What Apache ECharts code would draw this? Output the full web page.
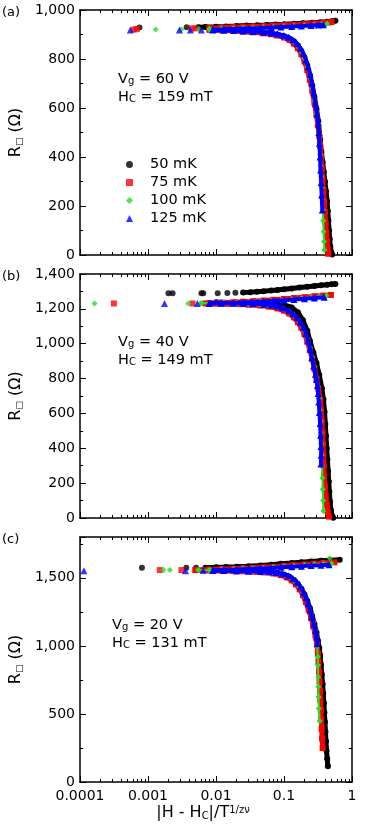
<!DOCTYPE html>
<html>
<head>
<meta charset="utf-8">
<script src="https://cdn.jsdelivr.net/npm/echarts@6/dist/echarts.min.js"></script>
<style>
html, body { margin: 0; padding: 0; background: #fff; }
#chart { width: 382px; height: 825px; }
</style>
</head>
<body>
<div id="chart"></div>
<script>
// ---- labels / ticks ----
const temps = ['50 mK', '75 mK', '100 mK', '125 mK']
const xTicks = [0.0001, 0.001, 0.01, 0.1, 1]
const xTickLabels = ['0.0001', '0.001', '0.01', '0.1', '1']
const yMax = [1000, 1400, 1800]
const yStep = [200, 200, 500]
const panelTags = ['(a)', '(b)', '(c)']
const gateV = ['60', '40', '20']
const fieldHc = ['159', '149', '131']

// ---- panel (a): Vg = 60 V ----
const a50Stray = [[0.00075, 929], [0.0037, 930]]
const a50Up = [[0.0055, 930], [0.007, 931], [0.01, 932], [0.014, 933], [0.02, 935], [0.028, 937], [0.04, 938], [0.055, 939], [0.075, 941], [0.1, 942], [0.14, 944], [0.19, 946], [0.26, 948], [0.34, 950], [0.43, 952], [0.5, 954], [0.57, 956]]
const a50Down = [[0.01, 919], [0.015, 917], [0.022, 915], [0.03, 912], [0.045, 909], [0.06, 905], [0.08, 900], [0.1, 893], [0.12, 884], [0.14, 872], [0.16, 855], [0.18, 833], [0.2, 806], [0.22, 773], [0.24, 735], [0.26, 692], [0.28, 645], [0.3, 596], [0.32, 545], [0.34, 470], [0.355, 420], [0.37, 380], [0.385, 340], [0.4, 300], [0.415, 260], [0.43, 220], [0.44, 180], [0.45, 140], [0.46, 100], [0.47, 65], [0.48, 35], [0.495, 12], [0.51, 2]]
const a75Stray = [[0.00062, 920], [0.00068, 922], [0.0044, 925], [0.005, 925]]
const a75Up = [[0.008, 927], [0.012, 928], [0.018, 930], [0.025, 931], [0.035, 933], [0.05, 934], [0.07, 936], [0.1, 938], [0.14, 940], [0.2, 942], [0.28, 945], [0.37, 947], [0.45, 949], [0.5, 951]]
const a75Down = [[0.008, 919], [0.012, 917], [0.018, 915], [0.025, 912], [0.035, 909], [0.05, 905], [0.065, 901], [0.08, 896], [0.1, 888], [0.12, 878], [0.14, 863], [0.16, 844], [0.18, 820], [0.2, 790], [0.22, 755], [0.24, 715], [0.26, 670], [0.28, 622], [0.3, 572], [0.315, 530], [0.33, 485], [0.34, 445], [0.35, 400], [0.36, 355], [0.37, 310], [0.38, 265], [0.39, 220], [0.4, 175], [0.41, 130], [0.42, 90], [0.43, 55], [0.44, 25], [0.45, 5]]
const a100Stray = [[0.0013, 920], [0.0031, 920], [0.0056, 922]]
const a100Up = [[0.008, 923], [0.012, 925], [0.018, 926], [0.025, 928], [0.035, 929], [0.05, 931], [0.07, 932], [0.1, 934], [0.14, 936], [0.2, 938], [0.28, 940], [0.36, 942], [0.43, 944]]
const a100Down = [[0.008, 919], [0.012, 917], [0.018, 915], [0.025, 913], [0.035, 910], [0.05, 907], [0.065, 903], [0.08, 899], [0.1, 892], [0.12, 884], [0.14, 871], [0.16, 854], [0.18, 831], [0.2, 802], [0.22, 766], [0.24, 725], [0.26, 680], [0.28, 630], [0.3, 578], [0.315, 535], [0.325, 495], [0.333, 455], [0.34, 410], [0.347, 365], [0.353, 320], [0.36, 275], [0.366, 230], [0.372, 185], [0.378, 140], [0.383, 95], [0.388, 55], [0.393, 20]]
const a125Stray = [[0.00055, 918], [0.0029, 918], [0.0042, 918], [0.0061, 918]]
const a125Up = [[0.009, 920], [0.013, 921], [0.02, 923], [0.03, 925], [0.045, 927], [0.065, 929], [0.09, 931], [0.13, 933], [0.18, 935], [0.25, 937], [0.32, 939], [0.38, 940]]
const a125Down = [[0.009, 918], [0.013, 917], [0.018, 916], [0.025, 914], [0.035, 912], [0.05, 909], [0.065, 906], [0.08, 902], [0.1, 896], [0.117, 889], [0.135, 879], [0.155, 863], [0.175, 844], [0.193, 822], [0.21, 797], [0.226, 769], [0.242, 737], [0.257, 702], [0.273, 662], [0.29, 617], [0.305, 577], [0.318, 540], [0.326, 500], [0.332, 456], [0.339, 400], [0.345, 347], [0.352, 295], [0.358, 245], [0.366, 184]]

// ---- panel (b): Vg = 40 V ----
const b50Stray = [[0.002, 1289], [0.0023, 1289], [0.0061, 1289], [0.0065, 1289], [0.0106, 1290], [0.0147, 1291], [0.0193, 1292]]
const b50Up = [[0.025, 1294], [0.032, 1296], [0.04, 1298], [0.05, 1301], [0.065, 1305], [0.08, 1308], [0.1, 1312], [0.13, 1317], [0.17, 1322], [0.22, 1327], [0.28, 1331], [0.35, 1335], [0.43, 1338], [0.5, 1341], [0.57, 1343]]
const b50Down = [[0.01, 1238], [0.02, 1237], [0.04, 1235], [0.06, 1233], [0.08, 1229], [0.1, 1223], [0.13, 1208], [0.16, 1180], [0.19, 1135], [0.22, 1075], [0.24, 1017], [0.27, 950], [0.3, 890], [0.33, 820], [0.36, 745], [0.38, 680], [0.395, 610], [0.405, 540], [0.415, 470], [0.425, 400], [0.435, 335], [0.445, 270], [0.455, 210], [0.465, 150], [0.475, 95], [0.49, 45], [0.51, 12], [0.53, 2]]
const b75Stray = [[0.000315, 1231], [0.0045, 1231]]
const b75Up = [[0.008, 1233], [0.012, 1235], [0.018, 1238], [0.025, 1241], [0.035, 1244], [0.05, 1248], [0.07, 1252], [0.1, 1257], [0.14, 1262], [0.2, 1267], [0.28, 1272], [0.38, 1276], [0.49, 1280]]
const b75Down = [[0.007, 1231], [0.01, 1230], [0.015, 1229], [0.022, 1227], [0.03, 1224], [0.045, 1219], [0.06, 1213], [0.08, 1203], [0.1, 1190], [0.12, 1173], [0.14, 1151], [0.16, 1124], [0.18, 1092], [0.2, 1055], [0.22, 1012], [0.24, 964], [0.26, 912], [0.28, 857], [0.3, 800], [0.32, 742], [0.34, 680], [0.35, 620], [0.36, 555], [0.37, 490], [0.375, 425], [0.38, 360], [0.385, 300], [0.39, 240], [0.4, 180], [0.41, 125], [0.425, 75], [0.44, 35], [0.46, 8]]
const b100Stray = [[0.000164, 1231], [0.0039, 1231]]
const b100Up = [[0.006, 1232], [0.009, 1233], [0.013, 1235], [0.02, 1237], [0.03, 1240], [0.045, 1243], [0.065, 1247], [0.09, 1251], [0.13, 1256], [0.18, 1261], [0.25, 1266], [0.33, 1271], [0.42, 1275]]
const b100Down = [[0.006, 1232], [0.009, 1232], [0.013, 1231], [0.02, 1230], [0.03, 1228], [0.045, 1224], [0.06, 1219], [0.08, 1211], [0.1, 1200], [0.12, 1185], [0.14, 1165], [0.16, 1140], [0.18, 1109], [0.2, 1072], [0.22, 1028], [0.24, 979], [0.26, 925], [0.28, 868], [0.3, 808], [0.315, 750], [0.328, 685], [0.337, 620], [0.344, 555], [0.35, 490], [0.355, 425], [0.36, 360], [0.364, 295], [0.368, 230], [0.372, 165], [0.376, 100], [0.38, 40]]
const b125Stray = [[0.00175, 1231], [0.0053, 1231]]
const b125Up = [[0.008, 1231], [0.012, 1232], [0.018, 1234], [0.025, 1236], [0.035, 1239], [0.05, 1242], [0.07, 1246], [0.1, 1250], [0.14, 1254], [0.2, 1258], [0.28, 1262], [0.39, 1266]]
const b125Down = [[0.008, 1234], [0.012, 1234], [0.018, 1233], [0.025, 1232], [0.035, 1230], [0.05, 1226], [0.065, 1222], [0.08, 1216], [0.095, 1206], [0.117, 1189], [0.135, 1172], [0.155, 1150], [0.175, 1123], [0.193, 1094], [0.21, 1058], [0.226, 1017], [0.242, 970], [0.257, 921], [0.273, 872], [0.29, 825], [0.3, 795], [0.31, 760], [0.318, 715], [0.325, 665], [0.332, 605], [0.34, 542], [0.345, 475], [0.35, 410], [0.352, 360], [0.35, 310]]

// ---- panel (c): Vg = 20 V ----
const c50Stray = [[0.000815, 1574], [0.00366, 1574], [0.0051, 1574]]
const c50Up = [[0.007, 1575], [0.01, 1577], [0.014, 1579], [0.02, 1582], [0.03, 1586], [0.045, 1591], [0.065, 1597], [0.09, 1603], [0.13, 1609], [0.18, 1615], [0.25, 1620], [0.35, 1625], [0.48, 1629], [0.66, 1633]]
const c50Down = [[0.01, 1553], [0.02, 1551], [0.04, 1547], [0.06, 1542], [0.08, 1535], [0.1, 1524], [0.12, 1508], [0.14, 1485], [0.16, 1455], [0.18, 1420], [0.2, 1378], [0.22, 1330], [0.24, 1278], [0.26, 1220], [0.28, 1160], [0.3, 1098], [0.315, 1040], [0.33, 985], [0.34, 930], [0.35, 860], [0.36, 790], [0.37, 720], [0.378, 650], [0.386, 580], [0.393, 510], [0.4, 440], [0.407, 370], [0.414, 300], [0.422, 230], [0.432, 170], [0.442, 115]]
const c75Stray = [[0.00149, 1557], [0.0031, 1557]]
const c75Up = [[0.005, 1558], [0.008, 1561], [0.012, 1564], [0.018, 1567], [0.025, 1570], [0.035, 1573], [0.05, 1577], [0.07, 1582], [0.1, 1587], [0.14, 1593], [0.2, 1598], [0.28, 1604], [0.38, 1609], [0.55, 1614]]
const c75Down = [[0.005, 1557], [0.008, 1555], [0.012, 1553], [0.018, 1551], [0.025, 1548], [0.035, 1545], [0.05, 1540], [0.07, 1532], [0.09, 1520], [0.11, 1503], [0.13, 1481], [0.15, 1452], [0.17, 1416], [0.19, 1372], [0.21, 1322], [0.23, 1266], [0.25, 1206], [0.27, 1143], [0.29, 1076], [0.305, 1010], [0.315, 945], [0.322, 880], [0.328, 810], [0.333, 740], [0.338, 670], [0.343, 600], [0.348, 530], [0.353, 460], [0.358, 390], [0.363, 320], [0.37, 250]]
const c100Stray = [[0.00169, 1557], [0.0021, 1557], [0.0055, 1557], [0.47, 1643]]
const c100Up = [[0.008, 1559], [0.012, 1562], [0.018, 1565], [0.025, 1568], [0.035, 1571], [0.05, 1575], [0.07, 1579], [0.1, 1584], [0.14, 1589], [0.2, 1594], [0.28, 1599], [0.38, 1604], [0.5, 1605]]
const c100Down = [[0.0055, 1557], [0.008, 1556], [0.012, 1555], [0.018, 1553], [0.025, 1551], [0.035, 1548], [0.05, 1544], [0.07, 1538], [0.09, 1528], [0.11, 1514], [0.13, 1494], [0.15, 1467], [0.17, 1433], [0.19, 1392], [0.21, 1345], [0.23, 1292], [0.25, 1236], [0.27, 1177], [0.29, 1115], [0.3, 1060], [0.307, 993], [0.314, 920], [0.316, 858], [0.318, 772], [0.32, 699], [0.323, 625], [0.326, 540], [0.334, 449]]
const c125Stray = [[0.000114, 1552], [0.00356, 1552], [0.0065, 1553]]
const c125Up = [[0.009, 1555], [0.013, 1558], [0.02, 1561], [0.03, 1565], [0.045, 1569], [0.065, 1573], [0.09, 1577], [0.13, 1582], [0.18, 1586], [0.25, 1590], [0.35, 1593], [0.46, 1596]]
const c125Down = [[0.009, 1554], [0.013, 1553], [0.02, 1551], [0.03, 1549], [0.045, 1546], [0.06, 1544], [0.076, 1540], [0.095, 1530], [0.117, 1516], [0.135, 1496], [0.155, 1469], [0.175, 1435], [0.193, 1395], [0.21, 1355], [0.226, 1310], [0.242, 1262], [0.257, 1212], [0.273, 1163], [0.29, 1114], [0.3, 1065], [0.31, 1015]]

const panels = [
  { stray: [a50Stray, a75Stray, a100Stray, a125Stray], up: [a50Up, a75Up, a100Up, a125Up], down: [a50Down, a75Down, a100Down, a125Down] },
  { stray: [b50Stray, b75Stray, b100Stray, b125Stray], up: [b50Up, b75Up, b100Up, b125Up], down: [b50Down, b75Down, b100Down, b125Down] },
  { stray: [c50Stray, c75Stray, c100Stray, c125Stray], up: [c50Up, c75Up, c100Up, c125Up], down: [c50Down, c75Down, c100Down, c125Down] }
]

const FONT = 'DejaVu Sans'
const colors = ['#000000', '#ff0000', '#22e022', '#0000ff']
const symbols = ['circle', 'rect', 'diamond', 'triangle']
const symSizes = [6, 6, 6, 7]
const bandWidths = [5, 5, 2, 4]
const gridTops = [10, 274, 537]
const gridHeights = [245, 244, 245]

function xLabel(v) {
  const i = xTicks.findIndex(t => Math.abs(Math.log10(t) - Math.log10(v)) < 1e-6)
  return i >= 0 ? xTickLabels[i] : ''
}

const tickStyle = { color: '#000', width: 1 }
const lineStyle = { color: '#000', width: 1.5 }

function logAxis(p, position, withLabels) {
  return {
    type: 'log', logBase: 10, gridIndex: p, position,
    min: xTicks[0], max: xTicks[xTicks.length - 1],
    axisLine: { show: true, onZero: false, lineStyle },
    axisTick: { show: true, inside: true, length: 6, lineStyle: tickStyle },
    minorTick: { show: true, splitNumber: 9, length: 3, lineStyle: tickStyle },
    splitLine: { show: false },
    minorSplitLine: { show: false },
    axisLabel: { show: withLabels, margin: 7, color: '#000', fontFamily: FONT, fontSize: 14, formatter: xLabel },
    name: withLabels ? '|H - H{s|C}|/T{p|1/zν}' : '',
    nameLocation: 'middle',
    nameGap: 23,
    nameTextStyle: {
      fontFamily: FONT, fontSize: 16, color: '#000', padding: [0, 26, 0, 0],
      rich: { s: { fontFamily: FONT, fontSize: 10, verticalAlign: 'bottom' }, p: { fontFamily: FONT, fontSize: 10, verticalAlign: 'top' } }
    }
  }
}

function valAxis(p, position, withLabels) {
  return {
    type: 'value', gridIndex: p, position,
    min: 0, max: yMax[p], interval: yStep[p],
    axisLine: { show: true, onZero: false, lineStyle },
    axisTick: { show: true, inside: true, length: 6, lineStyle: tickStyle },
    minorTick: { show: true, splitNumber: 2, length: 3, lineStyle: tickStyle },
    splitLine: { show: false },
    axisLabel: {
      show: withLabels, margin: 5, color: '#000', fontFamily: FONT, fontSize: 14,
      formatter: v => (v % yStep[p] === 0 ? v.toLocaleString('en-US') : '')
    },
    name: withLabels ? 'R{s|□} (Ω)' : '',
    nameLocation: 'middle',
    nameGap: 47,
    nameTextStyle: {
      fontFamily: FONT, fontSize: 16, color: '#000',
      rich: { s: { fontFamily: FONT, fontSize: 9, verticalAlign: 'bottom' } }
    }
  }
}

const grids = []
const xAxes = []
const yAxes = []
const graphics = []
for (let p = 0; p < 3; p++) {
  grids.push({ left: 71, top: gridTops[p], width: 281, height: gridHeights[p] })
  xAxes.push(logAxis(p, 'bottom', p === 2))
  xAxes.push(logAxis(p, 'top', false))
  yAxes.push(valAxis(p, 'left', true))
  yAxes.push(valAxis(p, 'right', false))
  graphics.push({
    type: 'text', x: 2, y: gridTops[p] + 3,
    style: { text: panelTags[p], fontFamily: FONT, fontSize: 13, fill: '#000', verticalAlign: 'middle' }
  })
}

// annotation positions
const noteX = [118, 118, 112]
const noteY = [79, 342, 625]
const subRich = { s: { fontFamily: FONT, fontSize: 10, verticalAlign: 'bottom' } }
for (let p = 0; p < 3; p++) {
  graphics.push({
    type: 'text', x: noteX[p], y: noteY[p],
    style: { text: 'V{s|g} = ' + gateV[p] + ' V', fontFamily: FONT, fontSize: 14.5, fill: '#000', verticalAlign: 'middle', rich: subRich }
  })
  graphics.push({
    type: 'text', x: noteX[p], y: noteY[p] + 18,
    style: { text: 'H{s|C} = ' + fieldHc[p] + ' mT', fontFamily: FONT, fontSize: 14.5, fill: '#000', verticalAlign: 'middle', rich: subRich }
  })
}

// series order + z: black at the bottom, blue on top
const series = []
for (let t = 0; t < 4; t++) {
  for (let p = 0; p < 3; p++) {
    const common = {
      name: temps[t], xAxisIndex: 2 * p, yAxisIndex: 2 * p,
      symbol: symbols[t], symbolSize: symSizes[t],
      itemStyle: { color: colors[t], borderWidth: 0 },
      silent: true, animation: false, z: 2 + t
    }
    series.push(Object.assign({ type: 'scatter', data: panels[p].stray[t] }, common))
    for (const branch of [panels[p].up[t], panels[p].down[t]]) {
      series.push(Object.assign({
        type: 'line', data: branch, showSymbol: true, showAllSymbol: true,
        lineStyle: { color: colors[t], width: bandWidths[t] }
      }, common))
    }
  }
}

const chart = echarts.init(document.getElementById('chart'))
chart.setOption({
  backgroundColor: '#fff',
  animation: false,
  grid: grids,
  xAxis: xAxes,
  yAxis: yAxes,
  legend: {
    left: 121, top: 152, orient: 'vertical',
    itemWidth: 7, itemHeight: 7, itemGap: 3,
    selectedMode: false,
    textStyle: { fontFamily: FONT, fontSize: 14.5, color: '#000', padding: [0, 0, 0, 12] },
    data: temps.map((n, i) => ({ name: n, icon: symbols[i] }))
  },
  graphic: graphics,
  series
})
</script>
</body>
</html>
